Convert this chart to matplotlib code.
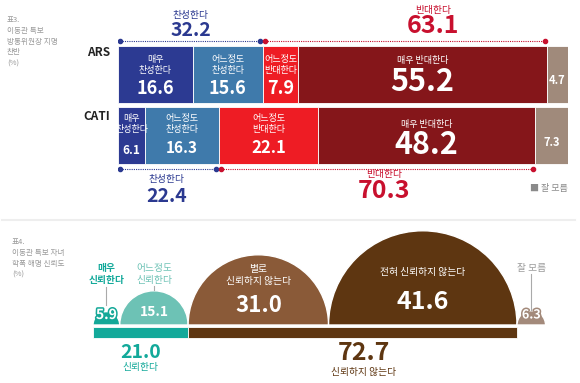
import numpy as np
import matplotlib.pyplot as plt
import matplotlib.patheffects as pe
from matplotlib.patches import Wedge

plt.rcParams['font.family'] = ['Noto Sans CJK KR', 'DejaVu Sans']

W, H = 580, 383

# 표3. 이동관 특보 방통위원장 지명 찬반 (%)
methods = ['ARS', 'CATI']
ars = [16.6, 15.6, 7.9, 55.2, 4.7]
cati = [6.1, 16.3, 22.1, 48.2, 7.3]
bar_labels = ['매우\n찬성한다', '어느정도\n찬성한다', '어느정도\n반대한다', '매우 반대한다', '']
bar_colors = ['#2c3a92', '#3f7aab', '#ee1c24', '#85161a', '#a08a7b']
agree = [32.2, 22.4]
oppose = [63.1, 70.3]

# 표4. 이동관 특보 자녀 학폭 해명 신뢰도 (%)
trust = [5.9, 15.1, 31.0, 41.6, 6.3]
trust_labels = ['매우\n신뢰한다', '어느정도\n신뢰한다', '별로\n신뢰하지 않는다', '전혀 신뢰하지 않는다', '잘 모름']
trust_colors = ['#14a898', '#6dc2b5', '#8a5a38', '#5e3611', '#a38a7b']
trust_totals = [21.0, 72.7]

NAVY = '#2b3990'
RED = '#c8102e'
TEAL = '#13a99a'
BROWN = '#5e3611'
GREY = '#9a9a9a'

fig = plt.figure(figsize=(W / 100, H / 100), dpi=100)


def px_axes(x0, y0, x1, y1):
    ax = fig.add_axes([x0 / W, 1 - y1 / H, (x1 - x0) / W, (y1 - y0) / H])
    ax.set_axis_off()
    return ax


# ---------------- top chart ----------------
ax = px_axes(118, 0, 568, 220)
ax.set_xlim(0, 100)
ax.set_ylim(220, 0)

rows = [ars, cati]
row_y = [74, 135.5]
label_y = [65, 124]
value_y = [[88, 88, 88, 82, 80], [151, 148, 148, 145, 142]]
value_fs = [[13, 13, 13, 22, 8], [8.5, 11, 12, 22, 8]]
label_y_single = [60, 125]

for r, vals in enumerate(rows):
    lefts = np.concatenate([[0], np.cumsum(vals)[:-1]])
    bars = ax.barh(row_y[r], vals, left=lefts, height=57, color=bar_colors,
                   edgecolor='white', linewidth=0.6)
    for i, (v, l0) in enumerate(zip(vals, lefts)):
        cx = l0 + v / 2
        if bar_labels[i]:
            ly = label_y[r] if '\n' in bar_labels[i] else label_y_single[r]
            t = ax.text(cx, ly, bar_labels[i], ha='center', va='center', color='white',
                        fontsize=6.5, linespacing=1.25)
            t.set_clip_path(bars[i])
        t = ax.text(cx, value_y[r][i], f'{v:.1f}', ha='center', va='center', color='white',
                    fontsize=value_fs[r][i], fontweight='bold')
        t.set_clip_path(bars[i])

# dotted brackets
def bracket(x0, x1, y, color):
    ax.plot([x0, x1], [y, y], ls=(0, (1, 1)), lw=0.8, color=color)
    ax.plot([x0, x1], [y, y], ls='none', marker='o', ms=3, color=color)

bracket(0.5, agree[0] - 0.7, 41, NAVY)
bracket(agree[0] + 0.5, agree[0] + oppose[0] - 0.5, 41, RED)
bracket(0.5, agree[1] - 0.7, 169, NAVY)
bracket(agree[1] + 0.5, agree[1] + oppose[1] - 0.5, 169, RED)

ax.text(agree[0] / 2, 15, '찬성한다', ha='center', va='center', color=NAVY, fontsize=7)
ax.text(agree[0] / 2, 31, f'{agree[0]:.1f}', ha='center', va='center', color=NAVY,
        fontsize=14, fontweight='bold')
ax.text(70, 10, '반대한다', ha='center', va='center', color=RED, fontsize=7)
ax.text(70, 26, f'{oppose[0]:.1f}', ha='center', va='center', color=RED,
        fontsize=18, fontweight='bold')

ax.text(agree[1] / 2 - 0.5, 179, '찬성한다', ha='center', va='center', color=NAVY, fontsize=7)
ax.text(agree[1] / 2 - 0.5, 196, f'{agree[1]:.1f}', ha='center', va='center', color=NAVY,
        fontsize=14, fontweight='bold')
ax.text(agree[1] + oppose[1] / 2 + 1.5, 174, '반대한다', ha='center', va='center', color=RED, fontsize=7)
ax.text(agree[1] + oppose[1] / 2 + 1.5, 191, f'{oppose[1]:.1f}', ha='center', va='center',
        color=RED, fontsize=18, fontweight='bold')

for m, y in zip(methods, [52, 117]):
    ax.text(-1.8, y, m, ha='right', va='center', fontsize=8.5, fontweight='bold', color='#222222')

ax.text(100, 188, '■ 잘 모름', ha='right', va='center', fontsize=6.5, color='#8a8a8a')

# ---------------- bottom chart ----------------
S = 4.53  # px per percent
BASE = 325
axb = px_axes(93, 222, 93 + 100 * S, 345)
axb.set_xlim(0, 100)
axb.set_ylim((BASE - 345) / S, (BASE - 222) / S)


def yb(py):
    return (BASE - py) / S


starts = np.concatenate([[0], np.cumsum(trust)[:-1]])
centers = starts + np.array(trust) / 2
for v, c, col in zip(trust, centers, trust_colors):
    axb.add_patch(Wedge((c, 0), v / 2, 0, 180, facecolor=col, edgecolor='white', lw=1.0))

axb.barh(yb(332.5), trust_totals, left=[0, trust_totals[0]], height=11 / S,
         color=[TEAL, BROWN], edgecolor='white', linewidth=0.6)

# labels above / inside the domes
axb.text(centers[0], yb(274), trust_labels[0], ha='center', va='center', color=TEAL,
         fontsize=7, fontweight='bold', linespacing=1.2)
axb.plot([centers[0], centers[0]], [yb(287), yb(305)], color='#aaaaaa', lw=0.8)
axb.text(centers[1], yb(274), trust_labels[1], ha='center', va='center', color='#6dc2b5',
         fontsize=7, linespacing=1.2)
axb.plot([centers[1], centers[1]], [yb(286), yb(290)], color='#aaaaaa', lw=0.8)
axb.text(centers[2], yb(275), trust_labels[2], ha='center', va='center', color='white',
         fontsize=7, linespacing=1.2)
axb.text(centers[3], yb(272), trust_labels[3], ha='center', va='center', color='white',
         fontsize=7)
axb.text(centers[4], yb(268), trust_labels[4], ha='center', va='center', color=GREY,
         fontsize=7)
axb.plot([centers[4], centers[4]], [yb(274), yb(310)], color='#aaaaaa', lw=0.8)

val_y = [315, 312, 306, 302, 315]
val_fs = [10, 10, 16, 18, 9]
for k, (v, c, col, py, fs) in enumerate(zip(trust, centers, trust_colors, val_y, val_fs)):
    t = axb.text(c, yb(py), f'{v:.1f}', ha='center', va='center', color='white',
                 fontsize=fs, fontweight='bold')
    if v < 10:
        # small domes: the number sticks out, so outline it in the dome colour
        t.set_path_effects([pe.withStroke(linewidth=2.2, foreground=col)])

axb.text(trust_totals[0] / 2, yb(352), f'{trust_totals[0]:.1f}', ha='center', va='center',
         color=TEAL, fontsize=14, fontweight='bold')
axb.text(trust_totals[0] / 2, yb(367), '신뢰한다', ha='center', va='center', color=TEAL, fontsize=7)
axb.text(59.8, yb(353), f'{trust_totals[1]:.1f}', ha='center', va='center',
         color=BROWN, fontsize=18, fontweight='bold')
axb.text(59.8, yb(372), '신뢰하지 않는다', ha='center', va='center', color=BROWN, fontsize=7)

# ---------------- titles / frame ----------------
ov = px_axes(0, 0, W, H)
ov.set_xlim(0, W)
ov.set_ylim(H, 0)
ov.patch.set_alpha(0)

for i, s in enumerate(['표3.', '이동관 특보', '방통위원장 지명', '찬반', '(%)']):
    ov.text(7, 20 + i * 10.8, s, ha='left', va='center', fontsize=5.5, color=GREY)
for i, s in enumerate(['표4.', '이동관 특보 자녀', '학폭 해명 신뢰도', '(%)']):
    ov.text(12, 242 + i * 11, s, ha='left', va='center', fontsize=5.5, color=GREY)

ov.plot([2, 575], [220, 220], color='#eeeeee', lw=1.5)

fig.savefig('out.png', dpi=100)
